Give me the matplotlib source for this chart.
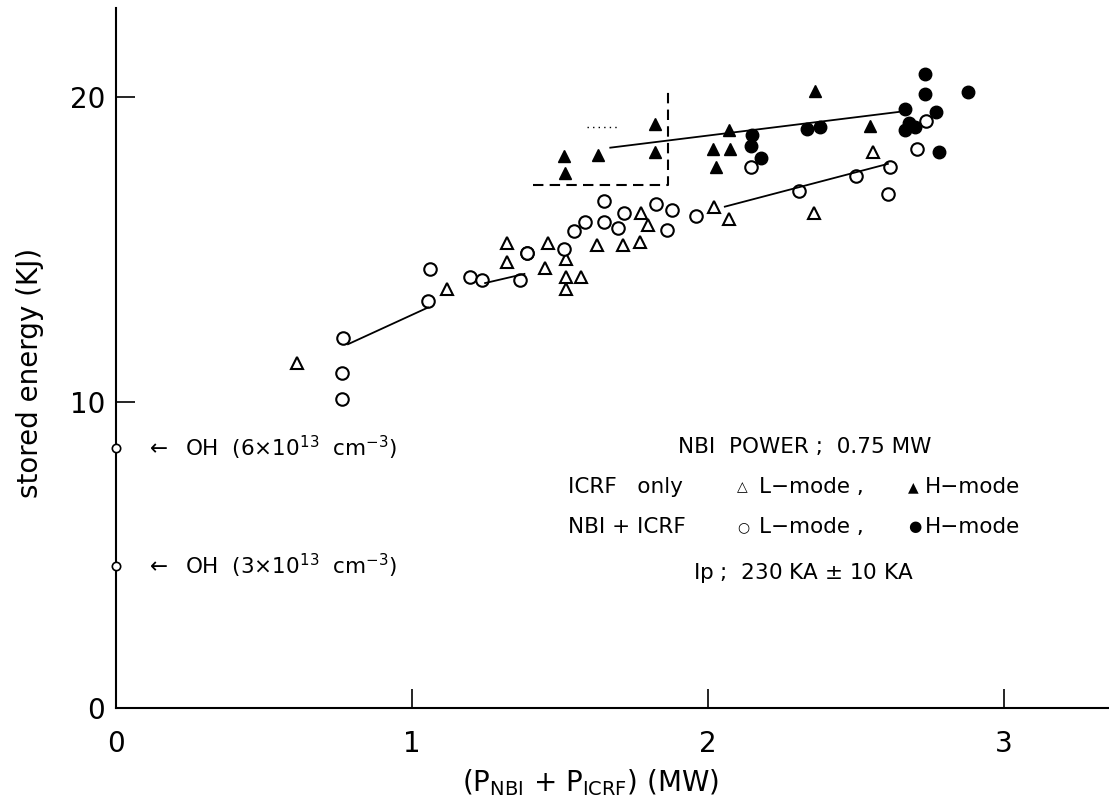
import numpy as np
import matplotlib.pyplot as plt

plt.rcParams['font.family'] = ['DejaVu Sans']

# ICRF only, L-mode (open triangles)
icrf_L_x = [0.61, 1.12, 1.32, 1.32, 1.45, 1.46, 1.52, 1.52, 1.52, 1.57, 1.625,
            1.713, 1.77, 1.774, 1.797, 2.02, 2.07, 2.358, 2.557]
icrf_L_y = [11.3, 13.7, 15.2, 14.6, 14.4, 15.2, 14.7, 14.1, 13.7, 14.1, 15.16,
            15.16, 15.26, 16.2, 15.8, 16.4, 16.0, 16.2, 18.2]

# ICRF only, H-mode (filled triangles)
icrf_H_x = [1.514, 1.517, 1.63, 1.82, 1.82, 2.017, 2.027, 2.07, 2.074, 2.36, 2.547]
icrf_H_y = [18.07, 17.5, 18.1, 19.1, 18.2, 18.3, 17.7, 18.9, 18.3, 20.2, 19.05]

# NBI + ICRF, L-mode (open circles)
nbi_L_x = [0.764, 0.764, 0.767, 1.054, 1.061, 1.196, 1.236, 1.365, 1.39, 1.39,
           1.514, 1.547, 1.584, 1.649, 1.649, 1.696, 1.716, 1.824, 1.861, 1.88,
           1.96, 2.145, 2.307, 2.50, 2.608, 2.615, 2.706, 2.736]
nbi_L_y = [10.1, 10.95, 12.1, 13.3, 14.35, 14.1, 14.0, 14.0, 14.9, 14.9,
           15.0, 15.6, 15.9, 15.9, 16.6, 15.7, 16.2, 16.5, 15.65, 16.3,
           16.1, 17.7, 16.9, 17.4, 16.8, 17.7, 18.3, 19.2]

# NBI + ICRF, H-mode (filled circles)
nbi_H_x = [2.145, 2.15, 2.18, 2.334, 2.38, 2.666, 2.666, 2.68, 2.70, 2.733,
           2.733, 2.77, 2.78, 2.878]
nbi_H_y = [18.37, 18.76, 18.0, 18.95, 18.99, 19.6, 18.9, 19.15, 19.0, 20.75,
           20.1, 19.5, 18.2, 20.16]

# ohmic reference levels
oh_y = [8.5, 4.64]
oh_labels = [r'$\leftarrow$  OH  (6$\times$10$^{13}$  cm$^{-3}$)',
             r'$\leftarrow$  OH  (3$\times$10$^{13}$  cm$^{-3}$)']

# hand-drawn trend segments
trend_lines = [
    ([0.784, 1.054], [11.9, 13.1]),
    ([1.247, 1.38], [13.9, 14.2]),
    ([2.057, 2.608], [16.4, 17.8]),
    ([1.67, 2.645], [18.33, 19.5]),
]

fig = plt.figure(figsize=(11.09, 7.99), dpi=100)
ax = fig.add_axes([0.1046, 0.114, 0.8954, 0.876])

ms = 8
ax.plot(icrf_L_x, icrf_L_y, '^', ms=ms, mfc='white', mec='black', mew=1.5, ls='none')
ax.plot(icrf_H_x, icrf_H_y, '^', ms=ms + 1, mfc='black', mec='black', ls='none')
ax.plot(nbi_L_x, nbi_L_y, 'o', ms=ms + 1, mfc='white', mec='black', mew=1.5, ls='none')
ax.plot(nbi_H_x, nbi_H_y, 'o', ms=ms + 1, mfc='black', mec='black', ls='none')

for xs, ys in trend_lines:
    ax.plot(xs, ys, color='black', lw=1.3)

# dashed bracket around the early H-mode points
ax.plot([1.41, 1.865, 1.865], [17.1, 17.1, 20.3], color='black', lw=1.5, ls=(0, (5, 3)))
ax.plot([1.59, 1.70], [19.0, 19.0], color='black', lw=1, ls=(0, (1, 3)))

# ohmic markers on the y axis
ax.plot([0, 0], oh_y, 'o', ms=6, mfc='white', mec='black', mew=1.2, ls='none', clip_on=False, zorder=5)
for yv, lab in zip(oh_y, oh_labels):
    ax.text(0.098, yv, lab, fontsize=15.5, va='center', ha='left')

# annotation block
fs = 15.5
ax.text(1.899, 8.53, 'NBI  POWER ;  0.75 MW', fontsize=fs, va='center')
ax.text(1.527, 7.22, 'ICRF   only', fontsize=fs, va='center')
ax.text(1.527, 5.92, 'NBI + ICRF', fontsize=fs, va='center')
ax.text(2.098, 7.22, '\u25b3', fontsize=10, va='center')
ax.text(2.172, 7.22, 'L\u2212mode ,', fontsize=fs, va='center')
ax.text(2.098, 5.92, '\u25cb', fontsize=10, va='center')
ax.text(2.172, 5.92, 'L\u2212mode ,', fontsize=fs, va='center')
ax.text(2.676, 7.22, '\u25b2', fontsize=10, va='center')
ax.text(2.733, 7.22, 'H\u2212mode', fontsize=fs, va='center')
ax.text(2.676, 5.92, '\u25cf', fontsize=11, va='center')
ax.text(2.733, 5.92, 'H\u2212mode', fontsize=fs, va='center')
ax.text(1.949, 4.41, r'Ip ;  230 KA $\pm$ 10 KA', fontsize=fs, va='center')

ax.set_xlim(0, 3.355)
ax.set_ylim(0, 22.9)
ax.set_xticks([0, 1, 2, 3])
ax.set_yticks([0, 10, 20])
ax.tick_params(direction='in', length=14, width=1.2, labelsize=20, pad=8)
ax.tick_params(axis='x', pad=16)
ax.spines['top'].set_visible(False)
ax.spines['right'].set_visible(False)
ax.spines['left'].set_linewidth(1.5)
ax.spines['bottom'].set_linewidth(1.5)

ax.set_xlabel(r'(P$_{\rm NBI}$ + P$_{\rm ICRF}$) (MW)', fontsize=20)
ax.set_ylabel('stored energy (KJ)', fontsize=20)
ax.xaxis.label.set_va('center')
ax.yaxis.label.set_va('center')
ax.xaxis.set_label_coords(0.478, -0.107)
ax.yaxis.set_label_coords(-0.0866, 0.479)

plt.savefig('out.png', dpi=100)
